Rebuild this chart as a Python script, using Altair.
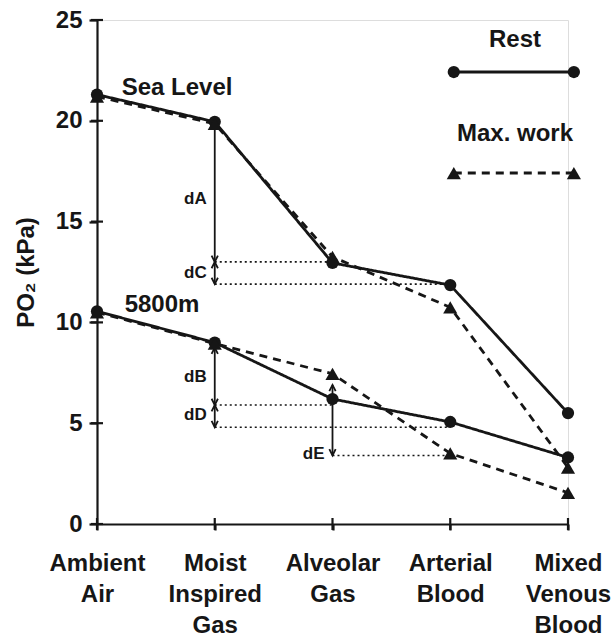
import json
import altair as alt
import pandas as pd

# ---------------- data ----------------
stages = [0, 1, 2, 3, 4]
stage_labels = [["Ambient", "Air"], ["Moist", "Inspired", "Gas"], ["Alveolar", "Gas"],
                ["Arterial", "Blood"], ["Mixed", "Venous", "Blood"]]

sea_rest = [21.3, 19.95, 12.95, 11.85, 5.5]
sea_max = [21.2, 19.85, 13.25, 10.75, 2.8]
alt_rest = [10.55, 9.0, 6.2, 5.06, 3.3]
alt_max = [10.5, 8.95, 7.45, 3.5, 1.55]

y_ticks = [0, 5, 10, 15, 20, 25]

group_names = ["Sea Level", "5800m"]
group_label_x = [0.21, 0.235]
group_label_y = [21.63, 10.86]

# annotation arrows: x stage, top value, bottom value, heads on top?, label, label y
arrow_x = [1, 1, 1, 1, 2]
arrow_top = [19.9, 13.0, 8.75, 5.9, 6.9]
arrow_bot = [13.0, 11.9, 5.9, 4.8, 3.4]
arrow_up_head = [False, True, True, True, True]
arrow_label = ["dA", "dC", "dB", "dD", "dE"]
arrow_label_y = [16.12, 12.45, 7.29, 5.41, 3.47]

# dotted guide lines
dot_x1 = [1, 1, 1, 1, 2]
dot_x2 = [2, 3, 2, 3, 3]
dot_y = [13.0, 11.9, 5.9, 4.8, 3.4]

# legend (in data units)
legend_names = ["Rest", "Max. work"]
legend_x1 = [3.03, 3.03]
legend_x2 = [4.05, 4.05]
legend_line_y = [22.42, 17.41]
legend_text_x = [3.55, 3.55]
legend_text_y = [24.0, 19.35]

FONT = "Liberation Sans"
INK = "#161616"

# ---------------- tables ----------------
rows = []
for name, vals, cond in [("sea_rest", sea_rest, "Rest"), ("sea_max", sea_max, "Max. work"),
                         ("alt_rest", alt_rest, "Rest"), ("alt_max", alt_max, "Max. work")]:
    for s, v in zip(stages, vals):
        rows.append({"x": s, "y": v, "series": name, "cond": cond})
df = pd.DataFrame(rows)

leg_rows = []
for n, x1, x2, y in zip(legend_names, legend_x1, legend_x2, legend_line_y):
    leg_rows.append({"x": x1, "y": y, "series": n, "cond": n})
    leg_rows.append({"x": x2, "y": y, "series": n, "cond": n})
leg_df = pd.DataFrame(leg_rows)
leg_text_df = pd.DataFrame({"x": legend_text_x, "y": legend_text_y, "t": legend_names})

grp_df = pd.DataFrame({"x": group_label_x, "y": group_label_y, "t": group_names})

arr_df = pd.DataFrame({"x": arrow_x, "y": arrow_top, "y2": arrow_bot,
                       "t": arrow_label, "ly": arrow_label_y})
down_df = pd.DataFrame({"x": arrow_x, "y": arrow_bot})
up_df = pd.DataFrame({"x": [x for x, u in zip(arrow_x, arrow_up_head) if u],
                      "y": [y for y, u in zip(arrow_top, arrow_up_head) if u]})
dot_df = pd.DataFrame({"x": dot_x1, "x2": dot_x2, "y": dot_y})

ytick_df = pd.DataFrame({"x": [0] * len(y_ticks), "y": y_ticks})
xtick_df = pd.DataFrame({"x": stages, "y": [0] * len(stages)})

# ---------------- scales ----------------
label_expr = json.dumps(stage_labels) + "[datum.value]"
xs = alt.Scale(domain=[0, 4], nice=False, zero=False)
ys = alt.Scale(domain=[0, 25], nice=False)

x_axis = alt.Axis(values=stages, labelExpr=label_expr, title=None, grid=False,
                  domainColor=INK, domainWidth=2.2, tickColor=INK, tickWidth=2.2,
                  tickSize=6, labelFont=FONT, labelFontSize=24, labelFontWeight="bold",
                  labelColor=INK, labelLineHeight=31, labelPadding=21,
                  labelFlush=False, labelOverlap=False, labelBaseline="top")
y_axis = alt.Axis(values=y_ticks, title="PO₂ (kPa)", grid=False,
                  domainColor=INK, domainWidth=2.2, tickColor=INK, tickWidth=2.2,
                  tickSize=8, labelFont=FONT, labelFontSize=24, labelFontWeight="bold",
                  labelColor=INK, labelPadding=7, titleFont=FONT, titleFontSize=24,
                  titleFontWeight="bold", titleColor=INK, titlePadding=17)

X = alt.X("x:Q", scale=xs, axis=x_axis)
Y = alt.Y("y:Q", scale=ys, axis=y_axis)
Xn = alt.X("x:Q", scale=xs)
Yn = alt.Y("y:Q", scale=ys)

dash = alt.StrokeDash("cond:N", scale=alt.Scale(domain=["Rest", "Max. work"],
                                                range=[[1, 0], [8, 6]]), legend=None)

# inward halves of the crossing tick marks
ytick_in = alt.Chart(ytick_df).mark_tick(
    orient="horizontal", size=12, thickness=2.2, color=INK, opacity=1, clip=False).encode(x=Xn, y=Yn)
xtick_in = alt.Chart(xtick_df).mark_tick(
    orient="vertical", size=12, thickness=2.2, color=INK, opacity=1, clip=False).encode(x=Xn, y=Yn)

lines = alt.Chart(df).mark_line(color=INK, strokeWidth=2.8, clip=False).encode(
    x=X, y=Y, detail="series:N", strokeDash=dash)

rest_pts = alt.Chart(df).transform_filter("datum.cond == 'Rest'").mark_point(
    shape="circle", filled=True, color=INK, size=150, opacity=1).encode(x=Xn, y=Yn)
max_pts = alt.Chart(df).transform_filter("datum.cond == 'Max. work'").mark_point(
    shape="triangle-up", filled=True, color=INK, size=200, opacity=1).encode(x=Xn, y=Yn)

leg_lines = alt.Chart(leg_df).mark_line(color=INK, strokeWidth=2.8, clip=False).encode(
    x=Xn, y=Yn, detail="series:N", strokeDash=dash)
leg_rest_pts = alt.Chart(leg_df).transform_filter("datum.cond == 'Rest'").mark_point(
    shape="circle", filled=True, color=INK, size=150, opacity=1, clip=False).encode(x=Xn, y=Yn)
leg_max_pts = alt.Chart(leg_df).transform_filter("datum.cond == 'Max. work'").mark_point(
    shape="triangle-up", filled=True, color=INK, size=200, opacity=1, clip=False).encode(x=Xn, y=Yn)
leg_text = alt.Chart(leg_text_df).mark_text(
    font=FONT, fontSize=24, fontWeight="bold", color=INK, align="center",
    baseline="middle").encode(x=Xn, y=Yn, text="t:N")

grp_text = alt.Chart(grp_df).mark_text(
    font=FONT, fontSize=24, fontWeight="bold", color=INK, align="left",
    baseline="middle").encode(x=Xn, y=Yn, text="t:N")

arrows = alt.Chart(arr_df).mark_rule(color=INK, strokeWidth=1.8).encode(
    x=Xn, y=Yn, y2="y2:Q")
down_heads = alt.Chart(down_df).mark_point(
    shape="M-0.5,-1L0,0L0.5,-1", size=160, color=INK, strokeWidth=1.8,
    filled=False, opacity=1).encode(x=Xn, y=Yn)
up_heads = alt.Chart(up_df).mark_point(
    shape="M-0.5,1L0,0L0.5,1", size=160, color=INK, strokeWidth=1.8,
    filled=False, opacity=1).encode(x=Xn, y=Yn)
arr_labels = alt.Chart(arr_df).mark_text(
    font=FONT, fontSize=17, fontWeight="bold", color=INK, align="right",
    baseline="middle", dx=-8).encode(x=Xn, y=alt.Y("ly:Q", scale=ys), text="t:N")

dots = alt.Chart(dot_df).mark_rule(color=INK, strokeWidth=1.6, strokeDash=[2, 3]).encode(
    x=Xn, x2="x2:Q", y=Yn)

chart = alt.layer(
    lines, ytick_in, xtick_in,
    dots, arrows, down_heads, up_heads, arr_labels,
    rest_pts, max_pts, grp_text,
    leg_lines, leg_rest_pts, leg_max_pts, leg_text,
).properties(
    width=471, height=504,
    autosize=alt.AutoSizeParams(type="none"),
    padding={"left": 97, "top": 20, "right": 47, "bottom": 114},
).configure_view(stroke=None).configure(background="white")

chart.save("out.html", embed_options={"renderer": "svg", "actions": False})
